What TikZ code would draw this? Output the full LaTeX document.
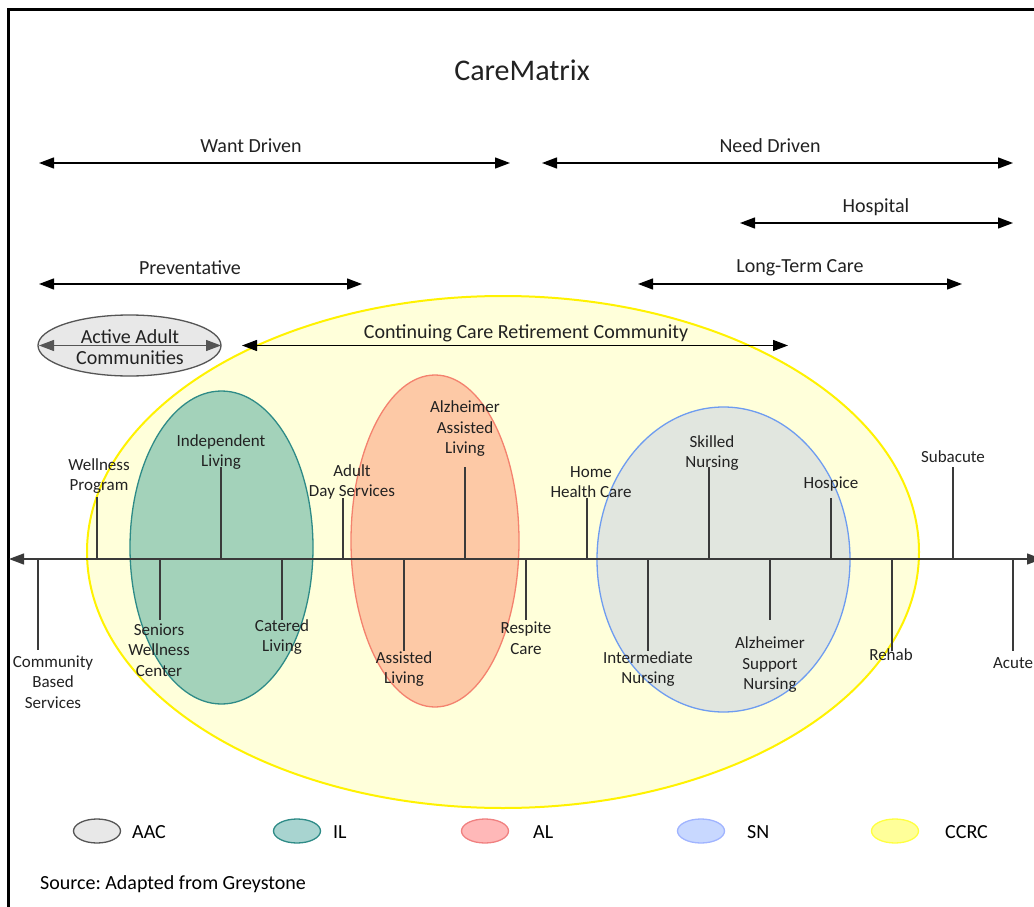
\documentclass[tikz,border=0pt]{standalone}
\usepackage{fontspec}
\setmainfont{Carlito}
\usetikzlibrary{arrows.meta}
\frenchspacing
\definecolor{ccrcfill}{HTML}{FFFFDA}
\definecolor{ccrcline}{HTML}{FFF200}
\definecolor{ilfill}{HTML}{A3D2BA}
\definecolor{illine}{HTML}{2E8B87}
\definecolor{alfill}{HTML}{FDC9A6}
\definecolor{alline}{HTML}{F4826E}
\definecolor{snfill}{HTML}{E1E6DF}
\definecolor{snline}{HTML}{6E9CF0}
\definecolor{aacfill}{HTML}{E8E8E8}
\definecolor{aacline}{HTML}{555555}
\definecolor{txt}{HTML}{222222}
\definecolor{tick}{HTML}{3A3A3A}
\definecolor{lgil}{HTML}{A8D4D0}
\definecolor{lgal}{HTML}{FFB8B8}
\definecolor{lgalline}{HTML}{F08080}
\definecolor{lgsn}{HTML}{C8D8FF}
\definecolor{lgsnline}{HTML}{A0B4FF}
\definecolor{lgccrc}{HTML}{FFFF99}
\definecolor{lgccrcline}{HTML}{FFFF40}
\tikzset{
  span/.style={{Triangle[length=15pt,width=11pt]}-{Triangle[length=15pt,width=11pt]}, line width=1.3pt, black},
  head/.style={inner sep=0pt, text=txt, font=\fontsize{20}{24}\selectfont},
  lbl/.style={inner sep=0pt, text=txt, align=center, font=\fontsize{17}{20.5}\selectfont},
  tk/.style={line width=1.3pt, tick},
  lgd/.style={inner sep=0pt, text=black, anchor=west, font=\fontsize{20}{24}\selectfont},
}
\begin{document}
\begin{tikzpicture}[x=1pt,y=-1pt]
\useasboundingbox (0,0) rectangle (1034,907);
\fill[white] (0,0) rectangle (1034,907);
% frame
\draw[line width=3pt] (8,907) -- (8,10) -- (1040,10);
% title
\node[inner sep=0pt, text=txt, font=\fontsize{30}{36}\selectfont] (title) at (522,70) {CareMatrix};
% spans
\coordinate (wd1) at (39,163); \coordinate (wd2) at (510,163);
\draw[span] (wd1) -- (wd2);
\node[head] (wdl) at (251,146) {Want Driven};
\coordinate (nd1) at (542,163); \coordinate (nd2) at (1013,163);
\draw[span] (nd1) -- (nd2);
\node[head] (ndl) at (770,146) {Need Driven};
\coordinate (ho1) at (740,223); \coordinate (ho2) at (1013,223);
\draw[span] (ho1) -- (ho2);
\node[head] (hol) at (876,207) {Hospital};
\coordinate (pr1) at (39,284); \coordinate (pr2) at (362,284);
\draw[span] (pr1) -- (pr2);
\node[head] (prl) at (190,268) {Preventative};
\coordinate (lt1) at (638,284); \coordinate (lt2) at (962,284);
\draw[span] (lt1) -- (lt2);
\node[head] (ltl) at (800,268) {Long-Term Care};
% big ellipses
\draw[fill=ccrcfill, draw=ccrcline, line width=2pt] (503,552) ellipse [x radius=416, y radius=256];
\draw[fill=ilfill, draw=illine, line width=1.3pt] (221.5,547.5) ellipse [x radius=91.5, y radius=156.5];
\draw[fill=alfill, draw=alline, line width=1.3pt] (435,541) ellipse [x radius=84, y radius=166];
\draw[fill=snfill, draw=snline, line width=1.3pt] (723.5,559.5) ellipse [x radius=126.5, y radius=152.5];
% AAC
\draw[fill=aacfill, draw=aacline, line width=1.3pt] (129.5,345.5) ellipse [x radius=91.5, y radius=30.5];
\coordinate (aa1) at (39,345.5); \coordinate (aa2) at (221,345.5);
\draw[span, draw=aacline, fill=black] (aa1) -- (aa2);
\node[head, align=center, font=\fontsize{20}{20.5}\selectfont] (aacl) at (130,347) {Active Adult\\Communities};
% CCRC span
\coordinate (cc1) at (242,345.5); \coordinate (cc2) at (788,345.5);
\draw[span] (cc1) -- (cc2);
\node[head] (ccl) at (526,333) {Continuing Care Retirement Community};
% timeline
\coordinate (tl1) at (9,559); \coordinate (tl2) at (1042,559);
\draw[{Triangle[length=15pt,width=11pt]}-{Triangle[length=15pt,width=11pt]}, line width=1.3pt, tick] (tl1) -- (tl2);
% upper ticks
\foreach \n/\x/\top in {wp/97/497, il/221/467, ad/343/498, aal/465/467, hh/587/498, sk/709/467, hs/831/498, sa/953/467}{
  \coordinate (\n b) at (\x,559); \coordinate (\n t) at (\x,\top);
  \draw[tk] (\n b) -- (\n t);
}
% lower ticks
\foreach \n/\x/\bot in {cb/38/650, sw/160/620, cl/282/620, al/404/651, rc/526/620, in/648/651, as/770/620, rh/892/651, ac/1013/651}{
  \coordinate (\n b) at (\x,559); \coordinate (\n t) at (\x,\bot);
  \draw[tk] (\n b) -- (\n t);
}
% labels
\node[lbl] (wpl) at (99,476) {Wellness\\Program};
\node[lbl] (ill) at (221,452) {Independent\\Living};
\node[lbl] (adl) at (352,482) {Adult\\Day Services};
\node[lbl] (aall) at (465,429) {Alzheimer\\Assisted\\Living};
\node[lbl] (hhl) at (591,482) {Home\\Health Care};
\node[lbl] (skl) at (712,453) {Skilled\\Nursing};
\node[lbl] (hsl) at (831,484) {Hospice};
\node[lbl] (sal) at (953,457) {Subacute};
\node[lbl] (cbl) at (53,682) {Community\\Based\\Services};
\node[lbl] (swl) at (159,650) {Seniors\\Wellness\\Center};
\node[lbl] (cll) at (282,637) {Catered\\Living};
\node[lbl] (all) at (404,669) {Assisted\\Living};
\node[lbl] (rcl) at (526,638) {Respite\\Care};
\node[lbl] (inl) at (648,669) {Intermediate\\Nursing};
\node[lbl] (asl) at (770,665) {Alzheimer\\Support\\Nursing};
\node[lbl] (rhl) at (891,655) {Rehab};
\node[lbl] (acl) at (1013,663) {Acute};
% legend
\draw[fill=aacfill, draw=aacline, line width=1.3pt] (97,831) ellipse [x radius=23.5, y radius=12];
\node[lgd] (lg1) at (132,832) {AAC};
\draw[fill=lgil, draw=illine, line width=1.3pt] (297,831) ellipse [x radius=23.5, y radius=12];
\node[lgd] (lg2) at (333,832) {IL};
\draw[fill=lgal, draw=lgalline, line width=1.3pt] (485,831) ellipse [x radius=23.5, y radius=12];
\node[lgd] (lg3) at (533,832) {AL};
\draw[fill=lgsn, draw=lgsnline, line width=1.3pt] (701,831) ellipse [x radius=23.5, y radius=12];
\node[lgd] (lg4) at (747,832) {SN};
\draw[fill=lgccrc, draw=lgccrcline, line width=1.3pt] (895,831) ellipse [x radius=23.5, y radius=12];
\node[lgd] (lg5) at (945,832) {CCRC};
% source
\node[lgd] (src) at (40,884) {Source: Adapted from Greystone};
\end{tikzpicture}
\end{document}
